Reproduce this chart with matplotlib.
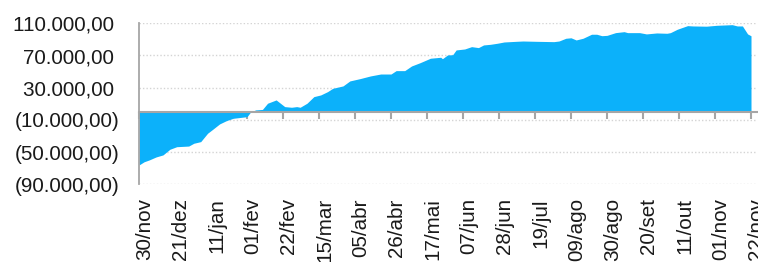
import pandas as pd
import matplotlib
matplotlib.use('Agg')
import matplotlib.pyplot as plt
from matplotlib.ticker import FuncFormatter
from matplotlib.transforms import ScaledTranslation

plt.rcParams['font.family'] = ['Liberation Sans', 'DejaVu Sans']

# dados (saldo acumulado)
start_date = '2020-11-30'
dates = [
    '2020-11-30', '2020-12-03', '2020-12-06', '2020-12-10', '2020-12-14', '2020-12-18',
    '2020-12-22', '2020-12-29', '2021-01-01', '2021-01-05', '2021-01-09', '2021-01-12',
    '2021-01-16', '2021-01-20', '2021-01-24', '2021-02-01', '2021-02-03', '2021-02-06',
    '2021-02-10', '2021-02-13', '2021-02-18', '2021-02-23', '2021-02-27', '2021-03-02',
    '2021-03-04', '2021-03-08', '2021-03-12', '2021-03-16', '2021-03-20', '2021-03-23',
    '2021-03-29', '2021-04-02', '2021-04-08', '2021-04-14', '2021-04-20', '2021-04-26',
    '2021-04-29', '2021-05-04', '2021-05-08', '2021-05-13', '2021-05-19', '2021-05-25',
    '2021-05-26', '2021-05-29', '2021-06-01', '2021-06-03', '2021-06-08', '2021-06-12',
    '2021-06-16', '2021-06-19', '2021-06-23', '2021-06-27', '2021-07-01', '2021-07-08',
    '2021-07-12', '2021-07-20', '2021-07-30', '2021-08-02', '2021-08-06', '2021-08-09',
    '2021-08-12', '2021-08-16', '2021-08-21', '2021-08-24', '2021-08-27', '2021-08-30',
    '2021-09-04', '2021-09-09', '2021-09-11', '2021-09-18', '2021-09-22', '2021-09-28',
    '2021-10-04', '2021-10-06', '2021-10-10', '2021-10-16', '2021-10-19', '2021-10-27',
    '2021-11-02', '2021-11-11', '2021-11-14', '2021-11-17', '2021-11-20', '2021-11-22',
]
values = [
    -66000, -62000, -59700, -56000, -53500, -46500,
    -43300, -42500, -39000, -37000, -26600, -21700,
    -15000, -10900, -8000, -6000, -500, 2400,
    3000, 10700, 14800, 6500, 5700, 6500,
    5700, 10700, 18900, 21000, 25100, 29200,
    32200, 38400, 41300, 44600, 47000, 47000,
    51200, 51200, 57000, 61100, 66600, 67800,
    66000, 70700, 71000, 76900, 78100, 81000,
    79800, 83100, 83900, 85200, 86800, 87600,
    88000, 87600, 87200, 88000, 91400, 92000,
    89300, 91400, 96400, 96400, 94600, 95000,
    98400, 99600, 98400, 98400, 96800, 98000,
    97600, 98400, 102600, 107100, 106700, 106400,
    107500, 108300, 106700, 106700, 96800, 94500,
]
tick_labels = ['30/nov', '21/dez', '11/jan', '01/fev', '22/fev', '15/mar', '05/abr',
               '26/abr', '17/mai', '07/jun', '28/jun', '19/jul', '09/ago', '30/ago',
               '20/set', '11/out', '01/nov', '22/nov']
y_ticks = [-90000, -50000, -10000, 30000, 70000, 110000]

blue = '#0CB1FA'
gray = '#A6A6A6'

days = (pd.to_datetime(dates) - pd.Timestamp(start_date)).days
tick_pos = [i * 21 for i in range(len(tick_labels))]


# formato brasileiro, negativos entre parênteses
def fmt_brl(v, pos):
    s = f"{abs(v):,.2f}".replace(',', 'X').replace('.', ',').replace('X', '.')
    return f"({s})" if v < 0 else s + ' '


fig = plt.figure(figsize=(7.58, 2.62), dpi=100)
ax = fig.add_axes([139 / 758, 1 - 184.3 / 262, (757 - 139) / 758, (184.3 - 23.3) / 262])

ax.fill_between(days, values, 0, color=blue, linewidth=0)

ax.set_xlim(0, 360.5)
ax.set_ylim(-90000, 110000)
ax.set_yticks(y_ticks)
ax.yaxis.set_major_formatter(FuncFormatter(fmt_brl))
ax.tick_params(axis='y', length=0, pad=14, labelsize=14.9, labelcolor='#1a1a1a')
ax.grid(axis='y', color='#D4D4D4', linestyle=(0, (1, 1.5)), linewidth=1)
ax.set_axisbelow(True)

for s in ['top', 'right']:
    ax.spines[s].set_visible(False)
ax.spines['left'].set_color(gray)
ax.spines['left'].set_linewidth(1.3)
ax.spines['bottom'].set_position(('data', 0))
ax.spines['bottom'].set_color(gray)
ax.spines['bottom'].set_linewidth(1.5)

ax.set_xticks(tick_pos)
ax.tick_params(axis='x', direction='out', length=5, width=1.5, color=gray, labelbottom=False)

# rótulos do eixo x na base do gráfico
sec = ax.secondary_xaxis('bottom')
sec.set_xticks(tick_pos, tick_labels, rotation=90)
sec.tick_params(length=0, pad=10, labelsize=14.9, labelcolor='#1a1a1a')
sec.spines['bottom'].set_visible(False)
shift = ScaledTranslation(0.055, 0, fig.dpi_scale_trans)
for lbl in sec.get_xticklabels():
    lbl.set_transform(lbl.get_transform() + shift)

fig.savefig('out.png', dpi=100)
